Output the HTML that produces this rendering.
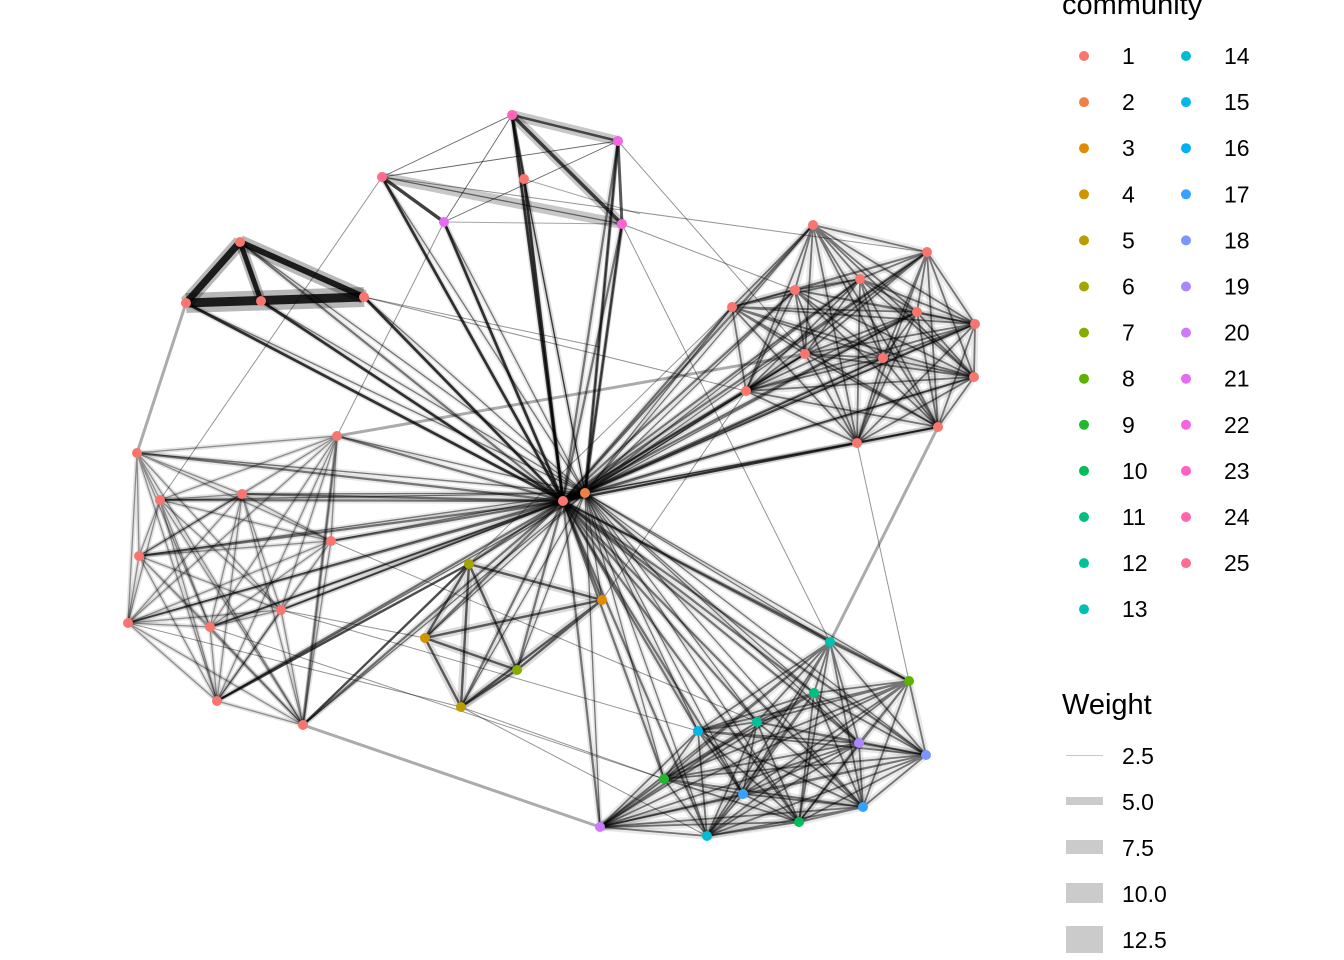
<!DOCTYPE html>
<html><head><meta charset="utf-8"><style>
html,body{margin:0;padding:0;background:#fff;}
svg{display:block;font-family:"Liberation Sans",Arial,sans-serif;}
</style></head><body>
<svg width="1344" height="960" viewBox="0 0 1344 960" xmlns="http://www.w3.org/2000/svg">
<rect width="1344" height="960" fill="#fff"/>
<defs>
<g id="H1">
<path d="M563 501L512 115"/><path d="M563 501L618 141"/><path d="M563 501L524 179"/><path d="M563 501L382 177"/><path d="M563 501L444 222"/><path d="M563 501L622 224"/>
<path d="M563 501L240 242"/><path d="M563 501L186 303"/><path d="M563 501L261 301"/><path d="M563 501L364 297"/>
<path d="M563 501L813 225"/><path d="M563 501L927 252"/><path d="M563 501L732 307"/><path d="M563 501L795 290"/><path d="M563 501L860 279"/><path d="M563 501L917 312"/><path d="M563 501L975 324"/><path d="M563 501L805 354"/><path d="M563 501L883 358"/><path d="M563 501L974 377"/><path d="M563 501L746 391"/><path d="M563 501L938 427"/><path d="M563 501L857 443"/>
<path d="M563 501L137 453"/><path d="M563 501L337 436"/><path d="M563 501L160 500"/><path d="M563 501L242 494"/><path d="M563 501L139 556"/><path d="M563 501L331 541"/><path d="M563 501L281 610"/><path d="M563 501L210 627"/><path d="M563 501L128 623"/><path d="M563 501L217 701"/><path d="M563 501L303 725"/>
<path d="M563 501L469 564"/><path d="M563 501L602 600"/><path d="M563 501L425 638"/><path d="M563 501L517 670"/><path d="M563 501L461 707"/>
<path d="M563 501L830 642"/><path d="M563 501L909 681"/><path d="M563 501L814 693"/><path d="M563 501L757 722"/><path d="M563 501L698 731"/><path d="M563 501L859 743"/><path d="M563 501L926 755"/><path d="M563 501L664 779"/><path d="M563 501L743 794"/><path d="M563 501L863 807"/><path d="M563 501L799 822"/><path d="M563 501L707 836"/><path d="M563 501L600 827"/>
<path d="M563 501L585 493"/>
</g>
<g id="H2">
<path d="M585 493L512 115"/><path d="M585 493L618 141"/><path d="M585 493L524 179"/><path d="M585 493L382 177"/><path d="M585 493L444 222"/><path d="M585 493L622 224"/>
<path d="M585 493L240 242"/><path d="M585 493L186 303"/><path d="M585 493L261 301"/><path d="M585 493L364 297"/>
<path d="M585 493L813 225"/><path d="M585 493L927 252"/><path d="M585 493L732 307"/><path d="M585 493L795 290"/><path d="M585 493L860 279"/><path d="M585 493L917 312"/><path d="M585 493L975 324"/><path d="M585 493L805 354"/><path d="M585 493L883 358"/><path d="M585 493L974 377"/><path d="M585 493L746 391"/><path d="M585 493L938 427"/><path d="M585 493L857 443"/>
<path d="M585 493L137 453"/><path d="M585 493L337 436"/><path d="M585 493L160 500"/><path d="M585 493L242 494"/><path d="M585 493L139 556"/><path d="M585 493L331 541"/><path d="M585 493L281 610"/><path d="M585 493L210 627"/><path d="M585 493L128 623"/><path d="M585 493L217 701"/><path d="M585 493L303 725"/>
<path d="M585 493L469 564"/><path d="M585 493L602 600"/><path d="M585 493L425 638"/><path d="M585 493L517 670"/><path d="M585 493L461 707"/>
<path d="M585 493L830 642"/><path d="M585 493L909 681"/><path d="M585 493L814 693"/><path d="M585 493L757 722"/><path d="M585 493L698 731"/><path d="M585 493L859 743"/><path d="M585 493L926 755"/><path d="M585 493L664 779"/><path d="M585 493L743 794"/><path d="M585 493L863 807"/><path d="M585 493L799 822"/><path d="M585 493L707 836"/><path d="M585 493L600 827"/>
</g>
<g id="R">
<path d="M813 225L927 252M813 225L732 307M813 225L795 290M813 225L860 279M813 225L917 312M813 225L975 324M813 225L805 354M813 225L883 358M813 225L974 377M813 225L746 391M813 225L938 427M813 225L857 443"/>
<path d="M927 252L732 307M927 252L795 290M927 252L860 279M927 252L917 312M927 252L975 324M927 252L805 354M927 252L883 358M927 252L974 377M927 252L746 391M927 252L938 427M927 252L857 443"/>
<path d="M732 307L795 290M732 307L860 279M732 307L917 312M732 307L975 324M732 307L805 354M732 307L883 358M732 307L974 377M732 307L746 391M732 307L938 427M732 307L857 443"/>
<path d="M795 290L860 279M795 290L917 312M795 290L975 324M795 290L805 354M795 290L883 358M795 290L974 377M795 290L746 391M795 290L938 427M795 290L857 443"/>
<path d="M860 279L917 312M860 279L975 324M860 279L805 354M860 279L883 358M860 279L974 377M860 279L746 391M860 279L938 427M860 279L857 443"/>
<path d="M917 312L975 324M917 312L805 354M917 312L883 358M917 312L974 377M917 312L746 391M917 312L938 427M917 312L857 443"/>
<path d="M975 324L805 354M975 324L883 358M975 324L974 377M975 324L746 391M975 324L938 427M975 324L857 443"/>
<path d="M805 354L883 358M805 354L974 377M805 354L746 391M805 354L938 427M805 354L857 443"/>
<path d="M883 358L974 377M883 358L746 391M883 358L938 427M883 358L857 443"/>
<path d="M974 377L746 391M974 377L938 427M974 377L857 443"/>
<path d="M746 391L938 427M746 391L857 443"/>
<path d="M938 427L857 443"/>
</g>
<g id="B">
<path d="M830 642L909 681M830 642L814 693M830 642L757 722M830 642L698 731M830 642L859 743M830 642L926 755M830 642L664 779M830 642L743 794M830 642L863 807M830 642L799 822M830 642L707 836M830 642L600 827"/>
<path d="M909 681L814 693M909 681L757 722M909 681L698 731M909 681L859 743M909 681L926 755M909 681L664 779M909 681L743 794M909 681L863 807M909 681L799 822M909 681L707 836M909 681L600 827"/>
<path d="M814 693L757 722M814 693L698 731M814 693L859 743M814 693L926 755M814 693L664 779M814 693L743 794M814 693L863 807M814 693L799 822M814 693L707 836M814 693L600 827"/>
<path d="M757 722L698 731M757 722L859 743M757 722L926 755M757 722L664 779M757 722L743 794M757 722L863 807M757 722L799 822M757 722L707 836M757 722L600 827"/>
<path d="M698 731L859 743M698 731L926 755M698 731L664 779M698 731L743 794M698 731L863 807M698 731L799 822M698 731L707 836M698 731L600 827"/>
<path d="M859 743L926 755M859 743L664 779M859 743L743 794M859 743L863 807M859 743L799 822M859 743L707 836M859 743L600 827"/>
<path d="M926 755L664 779M926 755L743 794M926 755L863 807M926 755L799 822M926 755L707 836M926 755L600 827"/>
<path d="M664 779L743 794M664 779L863 807M664 779L799 822M664 779L707 836M664 779L600 827"/>
<path d="M743 794L863 807M743 794L799 822M743 794L707 836M743 794L600 827"/>
<path d="M863 807L799 822M863 807L707 836M863 807L600 827"/>
<path d="M799 822L707 836M799 822L600 827"/>
<path d="M707 836L600 827"/>
</g>
<g id="L">
<path d="M137 453L337 436M137 453L160 500M137 453L242 494M137 453L139 556M137 453L331 541M137 453L281 610M137 453L210 627M137 453L128 623M137 453L217 701M137 453L303 725"/>
<path d="M337 436L160 500M337 436L242 494M337 436L139 556M337 436L331 541M337 436L281 610M337 436L210 627M337 436L128 623M337 436L217 701M337 436L303 725"/>
<path d="M160 500L242 494M160 500L139 556M160 500L331 541M160 500L281 610M160 500L210 627M160 500L128 623M160 500L217 701M160 500L303 725"/>
<path d="M242 494L139 556M242 494L331 541M242 494L281 610M242 494L210 627M242 494L128 623M242 494L217 701M242 494L303 725"/>
<path d="M139 556L331 541M139 556L281 610M139 556L210 627M139 556L128 623M139 556L217 701M139 556L303 725"/>
<path d="M331 541L281 610M331 541L210 627M331 541L128 623M331 541L217 701M331 541L303 725"/>
<path d="M281 610L210 627M281 610L128 623M281 610L217 701M281 610L303 725"/>
<path d="M210 627L128 623M210 627L217 701M210 627L303 725"/>
<path d="M128 623L217 701M128 623L303 725"/>
<path d="M217 701L303 725"/>
</g>
<g id="M">
<path d="M469 564L602 600M469 564L425 638M469 564L517 670M469 564L461 707"/>
<path d="M602 600L425 638M602 600L517 670M602 600L461 707"/>
<path d="M425 638L517 670M425 638L461 707"/>
<path d="M517 670L461 707"/>
</g>
</defs>
<g fill="none" stroke="#000" stroke-linecap="butt">
<!-- hub -->
<use href="#H1" stroke-width="6" stroke-opacity="0.09"/>
<use href="#H1" stroke-width="2.2" stroke-opacity="0.5"/>
<use href="#H2" stroke-width="5" stroke-opacity="0.08"/>
<use href="#H2" stroke-width="1.3" stroke-opacity="0.5"/>
<!-- clusters -->
<use href="#R" stroke-width="7" stroke-opacity="0.09"/>
<use href="#R" stroke-width="1.8" stroke-opacity="0.5"/>
<use href="#B" stroke-width="7" stroke-opacity="0.09"/>
<use href="#B" stroke-width="1.8" stroke-opacity="0.5"/>
<use href="#L" stroke-width="4.5" stroke-opacity="0.11"/>
<use href="#L" stroke-width="1.3" stroke-opacity="0.38"/>
<use href="#M" stroke-width="8" stroke-opacity="0.14"/>
<use href="#M" stroke-width="2.4" stroke-opacity="0.6"/>
<!-- triangle -->
<g stroke-opacity="0.28">
<path d="M186 303L364 297" stroke-width="20"/>
<path d="M240 242L186 303" stroke-width="14"/>
<path d="M240 242L364 297" stroke-width="14"/>
<path d="M240 242L261 301" stroke-width="10"/>
</g>
<g stroke-opacity="0.85">
<path d="M186 303L364 297" stroke-width="9"/>
<path d="M240 242L186 303" stroke-width="7"/>
<path d="M240 242L364 297" stroke-width="6"/>
<path d="M240 242L261 301" stroke-width="5"/>
</g>
<g stroke-opacity="0.6" stroke-width="3">
<path d="M186 303L563 501"/><path d="M261 301L563 501"/><path d="M364 297L563 501"/>
<path d="M524 179L563 501"/><path d="M512 115L563 501"/><path d="M444 222L563 501"/><path d="M382 177L563 501"/>
<path d="M618 141L585 493"/><path d="M622 224L585 493"/>
</g>
<!-- top group -->
<g stroke-opacity="0.22">
<path d="M512 115L618 141" stroke-width="10"/>
<path d="M512 115L622 224" stroke-width="10"/>
<path d="M382 177L622 224" stroke-width="10"/>
</g>
<path d="M512 115L618 141" stroke-width="2.5" stroke-opacity="0.65"/>
<path d="M512 115L622 224" stroke-width="3.5" stroke-opacity="0.7"/>
<path d="M382 177L622 224" stroke-width="1.2" stroke-opacity="0.55"/>
<path d="M382 177L444 222" stroke-width="3.5" stroke-opacity="0.75"/>
<path d="M618 141L622 224" stroke-width="3" stroke-opacity="0.65"/>
<path d="M512 115L524 179" stroke-width="3.5" stroke-opacity="0.65"/>
<g stroke-width="0.9" stroke-opacity="0.6">
<path d="M512 115L382 177"/><path d="M512 115L444 222"/><path d="M382 177L618 141"/><path d="M444 222L618 141"/>
</g>
<g stroke-width="1" stroke-opacity="0.35">
<path d="M444 222L622 224"/><path d="M524 179L640 214"/>
</g>
<!-- cross edges -->
<g stroke-width="1" stroke-opacity="0.42">
<path d="M382 177L160 500"/><path d="M444 222L337 436"/><path d="M364 297L746 391"/>
<path d="M382 177L927 252"/><path d="M618 141L805 354"/><path d="M622 224L795 290"/>
<path d="M622 224L830 642"/><path d="M857 443L909 681"/><path d="M281 610L425 638"/>
<path d="M461 707L664 779"/><path d="M461 707L707 836"/><path d="M210 627L664 779"/>
<path d="M128 623L461 707"/><path d="M331 541L757 722"/><path d="M281 610L698 731"/>
<path d="M602 600L746 391"/><path d="M469 564L732 307"/><path d="M364 297L600 347"/>
</g>
<g stroke-width="3" stroke-opacity="0.33">
<path d="M137 453L186 303"/><path d="M337 436L805 354"/><path d="M938 427L830 642"/>
<path d="M303 725L600 827"/><path d="M337 436L303 725"/>
</g>
<g stroke-width="2.4" stroke-opacity="0.7">
<path d="M303 725L469 564"/><path d="M217 701L469 564"/>
</g>
</g>
<!-- nodes -->
<g>
<circle cx="512" cy="115" r="5" fill="#FF63BE"/>
<circle cx="618" cy="141" r="5" fill="#F564E3"/>
<circle cx="524" cy="179" r="5" fill="#F8766D"/>
<circle cx="382" cy="177" r="5" fill="#FE6D8E"/>
<circle cx="444" cy="222" r="5" fill="#E76BF3"/>
<circle cx="622" cy="224" r="5" fill="#F964D6"/>
<g fill="#F8766D">
<circle cx="240" cy="242" r="5"/><circle cx="186" cy="303" r="5"/><circle cx="261" cy="301" r="5"/><circle cx="364" cy="297" r="5"/>
<circle cx="813" cy="225" r="5"/><circle cx="927" cy="252" r="5"/><circle cx="732" cy="307" r="5"/><circle cx="795" cy="290" r="5"/><circle cx="860" cy="279" r="5"/><circle cx="917" cy="312" r="5"/><circle cx="975" cy="324" r="5"/><circle cx="805" cy="354" r="5"/><circle cx="883" cy="358" r="5"/><circle cx="974" cy="377" r="5"/><circle cx="746" cy="391" r="5"/><circle cx="938" cy="427" r="5"/><circle cx="857" cy="443" r="5"/>
<circle cx="137" cy="453" r="5"/><circle cx="337" cy="436" r="5"/><circle cx="160" cy="500" r="5"/><circle cx="242" cy="494" r="5"/><circle cx="139" cy="556" r="5"/><circle cx="331" cy="541" r="5"/><circle cx="281" cy="610" r="5"/><circle cx="210" cy="627" r="5"/><circle cx="128" cy="623" r="5"/><circle cx="217" cy="701" r="5"/><circle cx="303" cy="725" r="5"/>
<circle cx="563" cy="501" r="5"/>
</g>
<circle cx="585" cy="493" r="5" fill="#EE8044"/>
<circle cx="469" cy="564" r="5" fill="#A3A500"/>
<circle cx="602" cy="600" r="5" fill="#E08B00"/>
<circle cx="425" cy="638" r="5" fill="#CF9500"/>
<circle cx="517" cy="670" r="5" fill="#85AD00"/>
<circle cx="461" cy="707" r="5" fill="#BB9D00"/>
<circle cx="830" cy="642" r="5" fill="#00C0B4"/>
<circle cx="909" cy="681" r="5" fill="#5DB300"/>
<circle cx="814" cy="693" r="5" fill="#00BF7D"/>
<circle cx="757" cy="722" r="5" fill="#00C19C"/>
<circle cx="698" cy="731" r="5" fill="#00B7E8"/>
<circle cx="859" cy="743" r="5" fill="#AB86FF"/>
<circle cx="926" cy="755" r="5" fill="#7997FF"/>
<circle cx="664" cy="779" r="5" fill="#22B82C"/>
<circle cx="743" cy="794" r="5" fill="#35A2FF"/>
<circle cx="863" cy="807" r="5" fill="#35A2FF"/>
<circle cx="799" cy="822" r="5" fill="#00BD58"/>
<circle cx="707" cy="836" r="5" fill="#00BDD3"/>
<circle cx="600" cy="827" r="5" fill="#CD79FE"/>
</g>
<!-- legend: community -->
<text x="1062" y="14" font-size="29" fill="#000">community</text>
<g font-size="23" fill="#000">
<circle cx="1084" cy="56" r="5" fill="#F8766D"/><text x="1122" y="64">1</text>
<circle cx="1084" cy="102.1" r="5" fill="#EE8044"/><text x="1122" y="110.1">2</text>
<circle cx="1084" cy="148.2" r="5" fill="#E08B00"/><text x="1122" y="156.2">3</text>
<circle cx="1084" cy="194.3" r="5" fill="#CF9500"/><text x="1122" y="202.3">4</text>
<circle cx="1084" cy="240.4" r="5" fill="#BB9D00"/><text x="1122" y="248.4">5</text>
<circle cx="1084" cy="286.5" r="5" fill="#A3A500"/><text x="1122" y="294.5">6</text>
<circle cx="1084" cy="332.6" r="5" fill="#85AD00"/><text x="1122" y="340.6">7</text>
<circle cx="1084" cy="378.7" r="5" fill="#5DB300"/><text x="1122" y="386.7">8</text>
<circle cx="1084" cy="424.8" r="5" fill="#22B82C"/><text x="1122" y="432.8">9</text>
<circle cx="1084" cy="470.9" r="5" fill="#00BD58"/><text x="1122" y="478.9">10</text>
<circle cx="1084" cy="517" r="5" fill="#00BF7D"/><text x="1122" y="525">11</text>
<circle cx="1084" cy="563.1" r="5" fill="#00C19C"/><text x="1122" y="571.1">12</text>
<circle cx="1084" cy="609.2" r="5" fill="#00C0B4"/><text x="1122" y="617.2">13</text>
<circle cx="1186" cy="56" r="5" fill="#00BDD3"/><text x="1224" y="64">14</text>
<circle cx="1186" cy="102.1" r="5" fill="#00B7E8"/><text x="1224" y="110.1">15</text>
<circle cx="1186" cy="148.2" r="5" fill="#00B0F6"/><text x="1224" y="156.2">16</text>
<circle cx="1186" cy="194.3" r="5" fill="#35A2FF"/><text x="1224" y="202.3">17</text>
<circle cx="1186" cy="240.4" r="5" fill="#7997FF"/><text x="1224" y="248.4">18</text>
<circle cx="1186" cy="286.5" r="5" fill="#AB86FF"/><text x="1224" y="294.5">19</text>
<circle cx="1186" cy="332.6" r="5" fill="#CD79FE"/><text x="1224" y="340.6">20</text>
<circle cx="1186" cy="378.7" r="5" fill="#E76BF3"/><text x="1224" y="386.7">21</text>
<circle cx="1186" cy="424.8" r="5" fill="#F763E0"/><text x="1224" y="432.8">22</text>
<circle cx="1186" cy="470.9" r="5" fill="#FF61C9"/><text x="1224" y="478.9">23</text>
<circle cx="1186" cy="517" r="5" fill="#FF65AD"/><text x="1224" y="525">24</text>
<circle cx="1186" cy="563.1" r="5" fill="#FE6D8E"/><text x="1224" y="571.1">25</text>
</g>
<!-- legend: weight -->
<text x="1062" y="714" font-size="29" fill="#000">Weight</text>
<rect x="1066" y="755" width="37" height="1" fill="#c8c8c8"/>
<rect x="1066" y="797" width="37" height="8" fill="#cbcbcb"/>
<rect x="1066" y="840" width="37" height="14" fill="#cbcbcb"/>
<rect x="1066" y="883" width="37" height="20" fill="#cbcbcb"/>
<rect x="1066" y="926" width="37" height="27" fill="#cbcbcb"/>
<g font-size="23" fill="#000">
<text x="1122" y="764">2.5</text>
<text x="1122" y="810">5.0</text>
<text x="1122" y="856">7.5</text>
<text x="1122" y="902">10.0</text>
<text x="1122" y="948">12.5</text>
</g>
</svg>
</body></html>
